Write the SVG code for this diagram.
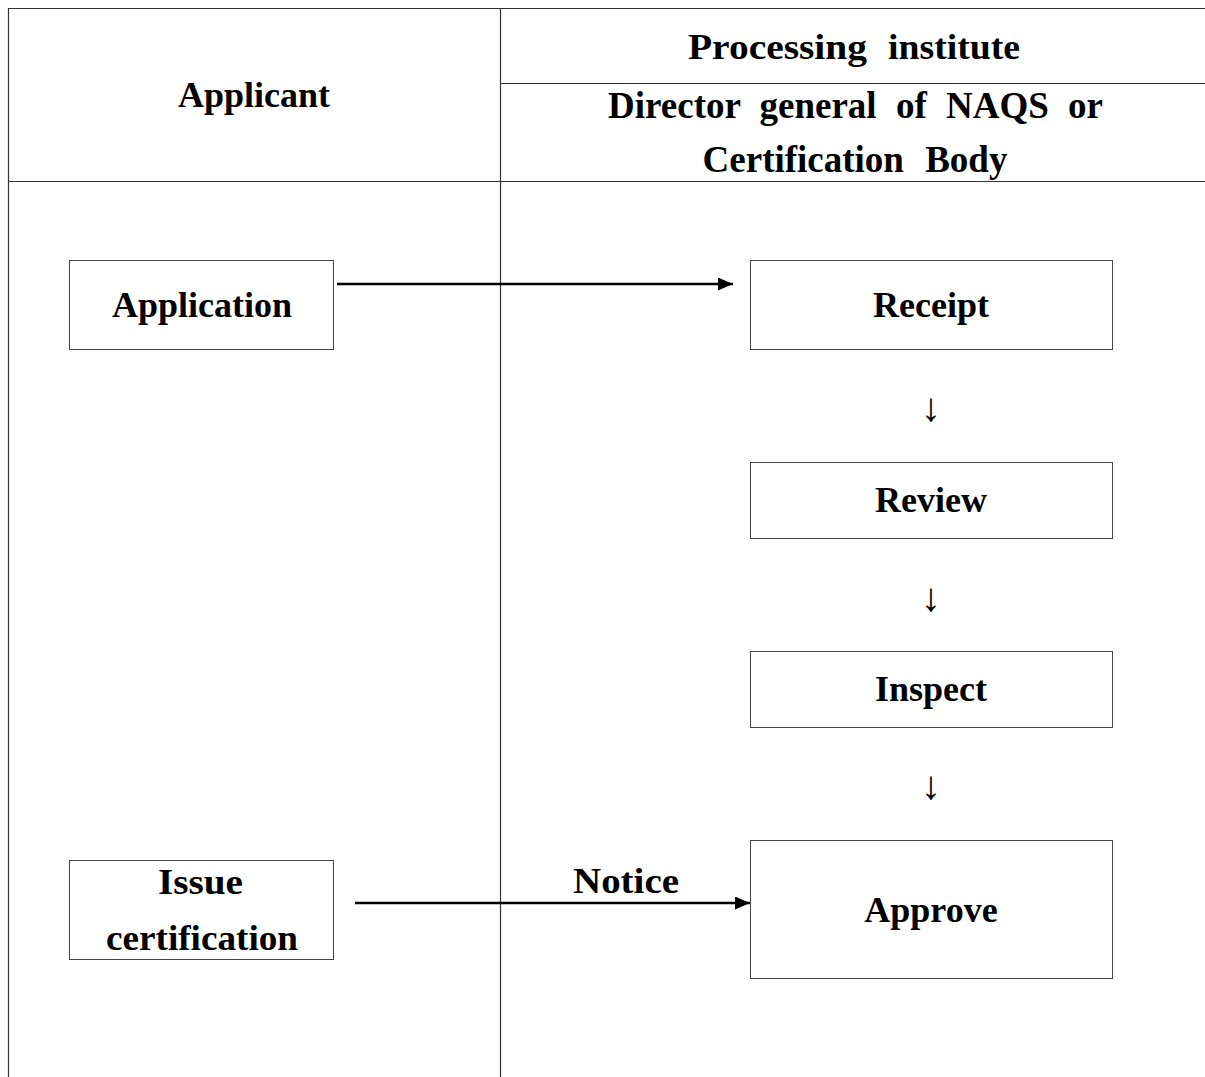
<svg xmlns="http://www.w3.org/2000/svg" width="1205" height="1077" viewBox="0 0 1205 1077">
<style>
.t{font-family:"Liberation Serif","Times New Roman",serif;font-weight:bold;font-size:36px;fill:#000;text-anchor:middle}
.h{font-size:37px}
.w{font-family:"Liberation Serif","Times New Roman",serif;font-weight:bold;font-size:36px;fill:#000}
.ar{font-family:"Liberation Serif","DejaVu Serif",serif;font-size:40px;fill:#000;text-anchor:middle}
.box{fill:#fff;stroke:#444;stroke-width:1}
.grid{stroke:#333;stroke-width:1.2;fill:none}
.conn{stroke:#000;stroke-width:2.5;fill:none}
</style>
<defs>
<marker id="ah2" markerWidth="15" markerHeight="13" refX="15" refY="6.5" orient="auto" markerUnits="userSpaceOnUse" viewBox="0 0 15 13">
<path d="M0,0 L15,6.5 L0,13 Z" fill="#000"/>
</marker>
</defs>
<rect width="1205" height="1077" fill="#fff"/>
<g id="table">
<path class="grid" d="M8.5,1077 V8.5 H1205 M500.5,8.5 V1077 M500.5,83.5 H1205 M8.5,181.5 H1205"/>
<text class="t" x="254" y="107">Applicant</text>
<text class="w" y="59"><tspan x="688" textLength="179" lengthAdjust="spacingAndGlyphs">Processing</tspan><tspan x="888" textLength="132" lengthAdjust="spacingAndGlyphs">institute</tspan></text>
<text class="t h" x="855.5" y="118" style="word-spacing:10px">Director general of NAQS or</text>
<text class="t h" x="855" y="172" style="word-spacing:12px">Certification Body</text>
</g>
<g id="node-application">
<rect class="box" x="69.5" y="260.5" width="264" height="89"/>
<text class="t" x="202" y="317">Application</text>
</g>
<g id="node-receipt">
<rect class="box" x="750.5" y="260.5" width="362" height="89"/>
<text class="t" x="931" y="317">Receipt</text>
</g>
<g id="node-review">
<rect class="box" x="750.5" y="462.5" width="362" height="76"/>
<text class="t" x="931" y="512">Review</text>
</g>
<g id="node-inspect">
<rect class="box" x="750.5" y="651.5" width="362" height="76"/>
<text class="t" x="931" y="701">Inspect</text>
</g>
<g id="node-approve">
<rect class="box" x="750.5" y="840.5" width="362" height="138"/>
<text class="t" x="931" y="922">Approve</text>
</g>
<g id="node-issue">
<rect class="box" x="69.5" y="860.5" width="264" height="99"/>
<text class="w" x="158" y="894" textLength="85" lengthAdjust="spacingAndGlyphs">Issue</text>
<text class="w" x="106" y="950" textLength="192" lengthAdjust="spacingAndGlyphs">certification</text>
</g>
<g id="connectors">
<line class="conn" x1="337" y1="284" x2="733" y2="284" marker-end="url(#ah2)"/>
<line class="conn" x1="355" y1="903" x2="750" y2="903" marker-end="url(#ah2)"/>
<text class="w" x="573" y="893" textLength="106" lengthAdjust="spacingAndGlyphs">Notice</text>
<text class="ar" x="931" y="421">↓</text>
<text class="ar" x="931" y="611">↓</text>
<text class="ar" x="931" y="799">↓</text>
</g>
</svg>
